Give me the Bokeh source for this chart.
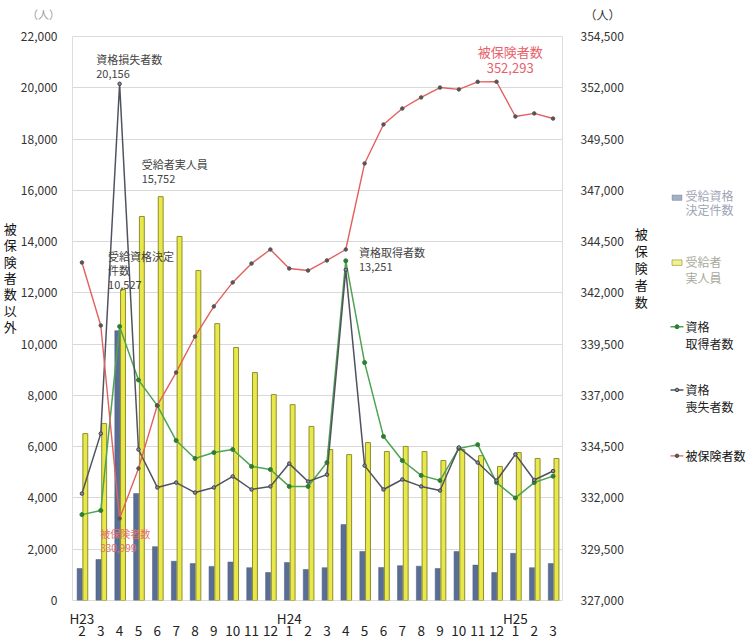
from bokeh.plotting import figure
from bokeh.layouts import column, row
from bokeh.models import (Range1d, LinearAxis, FixedTicker, Label, NumeralTickFormatter,
                          ColumnDataSource)
from bokeh.transform import dodge
from bokeh.embed import file_html
from bokeh.resources import INLINE

# Monthly figures, H23/2 to H25/3
months = ["2", "3", "4", "5", "6", "7", "8", "9", "10", "11", "12",
          "1", "2", "3", "4", "5", "6", "7", "8", "9", "10", "11", "12",
          "1", "2", "3"]
eras = ["H23", "H24", "H25"]
era_start = [0, 11, 23]

# 受給資格決定件数
decisions = [1250, 1600, 10527, 4170, 2100, 1530, 1440, 1330, 1500, 1280, 1090,
             1480, 1210, 1280, 2960, 1910, 1290, 1360, 1340, 1250, 1910, 1380, 1090,
             1840, 1280, 1440]
# 受給者実人員
recipients = [6510, 6900, 12130, 14980, 15752, 14200, 12870, 10800, 9870, 8890, 8030,
              7640, 6790, 5890, 5690, 6160, 5810, 6010, 5810, 5460, 5890, 5650, 5230,
              5770, 5540, 5540]
# 資格取得者数
acquired = [3350, 3510, 10690, 8600, 7600, 6240, 5540, 5770, 5890, 5230, 5110,
            4450, 4450, 5380, 13251, 9280, 6400, 5460, 4880, 4680, 5930, 6080, 4600,
            4000, 4600, 4850]
# 資格喪失者数
lost = [4170, 6510, 20156, 5890, 4410, 4600, 4210, 4410, 4840, 4330, 4450,
        5340, 4640, 4910, 12900, 5260, 4330, 4720, 4450, 4290, 5970, 5380, 4680,
        5700, 4700, 5050]
# 被保険者数
insured = [343480, 340410, 330999, 333440, 336510, 338120, 339870, 341340, 342510, 343430, 344115,
           343190, 343090, 343580, 344115, 348310, 350210, 350990, 351530, 352010, 351920, 352290, 352293,
           350600, 350750, 350500]

FONT = "Noto Sans CJK JP"
PAGE_W, PAGE_H = 746, 642
HEAD = 26                   # caption strip above the chart
TOP = 36 - HEAD             # room for the top tick labels inside the chart body
MAIN_W, SIDE_W = 650, 96    # chart body and legend column
L, R, B = 72, MAIN_W - 568, 42
FW, FH = MAIN_W - L - R, PAGE_H - 36 - B
Y_MAX = 22000
N = len(months)

# series styles, shared by the chart and its legend
DEC = dict(fill_color="#5a6e95", line_color="#4a5b7c", line_width=0.5)
REC = dict(fill_color="#e8e84a", line_color="#8e8e2c", line_width=1)
ACQ_LINE = dict(line_color="#4fa352", line_width=1.5)
ACQ_MARK = dict(marker="circle", size=4, fill_color="#2f7d35", line_color="#2f7d35")
LOST_LINE = dict(line_color="#50535f", line_width=1.5)
LOST_MARK = dict(marker="circle", size=3.5, fill_color="#8a8d96", line_color="#3c3f4a")
INS_LINE = dict(line_color="#e2605e", line_width=1.4)
INS_MARK = dict(marker="circle", size=3.5, fill_color="#555555", line_color="#555555")

src = ColumnDataSource(dict(x=list(range(N)), decisions=decisions,
                            recipients=recipients, acquired=acquired, lost=lost,
                            insured=insured))

p = figure(width=MAIN_W, height=PAGE_H - HEAD, output_backend="svg",
           toolbar_location=None, title=None,
           x_range=Range1d(-0.5, N - 0.5), y_range=Range1d(0, Y_MAX),
           min_border_left=L, min_border_right=R, min_border_top=TOP, min_border_bottom=B)
p.extra_y_ranges = {"ins": Range1d(327000, 354500)}
p.outline_line_color = "#dcdcdc"
p.background_fill_color = "white"
p.border_fill_color = "white"


def dx(px):
    return p.x_range.start + (px - L) / FW * (p.x_range.end - p.x_range.start)


def dy(py):
    return (PAGE_H - B - py) / FH * Y_MAX


def stacked(text, pad):
    # one character per line; blank lines lift the block above the axis centre
    return "\n".join(list(text)) + "\n" * pad


# grid
p.xgrid.visible = False
p.ygrid.ticker = FixedTicker(ticks=list(range(0, Y_MAX + 1, 2000)))
p.ygrid.grid_line_color = "#d9d9d9"

# left axis
ya = p.yaxis[0]
ya.ticker = FixedTicker(ticks=list(range(0, Y_MAX + 1, 2000)))
ya.formatter = NumeralTickFormatter(format="0,0")
ya.major_tick_line_color = None
ya.minor_tick_line_color = None
ya.axis_line_color = None
ya.major_label_standoff = 9
ya.major_label_text_font = FONT
ya.major_label_text_font_size = "12px"
ya.major_label_text_color = "#333333"
ya.axis_label = stacked("被保険者数以外", 5)
ya.axis_label_orientation = "horizontal"
ya.axis_label_standoff = 1
ya.axis_label_text_font = FONT
ya.axis_label_text_font_size = "13px"
ya.axis_label_text_font_style = "normal"
ya.axis_label_text_color = "#111111"
ya.axis_label_text_line_height = 0.86

# right axis
ra = LinearAxis(y_range_name="ins",
                ticker=FixedTicker(ticks=list(range(327000, 354501, 2500))),
                formatter=NumeralTickFormatter(format="0,0"))
ra.major_tick_line_color = None
ra.minor_tick_line_color = None
ra.axis_line_color = None
ra.major_label_standoff = 12
ra.major_label_text_font = FONT
ra.major_label_text_font_size = "12px"
ra.major_label_text_color = "#333333"
ra.axis_label = stacked("被保険者数", 6)
ra.axis_label_orientation = "horizontal"
ra.axis_label_standoff = 8
ra.axis_label_text_font = FONT
ra.axis_label_text_font_size = "13px"
ra.axis_label_text_font_style = "normal"
ra.axis_label_text_color = "#111111"
ra.axis_label_text_line_height = 0.9
p.add_layout(ra, "right")

# month ticks; the first month of each era carries the era name on the line above
era_at = dict(zip(era_start, eras))
xa = p.xaxis[0]
xa.ticker = FixedTicker(ticks=list(range(N)))
xa.major_label_overrides = {i: era_at.get(i, "") + "\n" + m for i, m in enumerate(months)}
xa.major_tick_line_color = None
xa.minor_tick_line_color = None
xa.axis_line_color = None
xa.major_label_standoff = 1
xa.major_label_text_font = FONT
xa.major_label_text_font_size = "13.5px"
xa.major_label_text_line_height = 0.6
xa.major_label_text_color = "#222222"

# bars
p.vbar(x=dodge("x", -0.12, range=p.x_range), top="decisions", width=0.27, source=src, **DEC)
p.vbar(x=dodge("x", 0.18, range=p.x_range), top="recipients", width=0.26, source=src, **REC)

# lines
p.line("x", "acquired", source=src, **ACQ_LINE)
p.scatter("x", "acquired", source=src, **ACQ_MARK)
p.line("x", "lost", source=src, **LOST_LINE)
p.scatter("x", "lost", source=src, **LOST_MARK)
p.line("x", "insured", source=src, y_range_name="ins", **INS_LINE)
p.scatter("x", "insured", source=src, y_range_name="ins", **INS_MARK)


def label(fig, x, y, text, size="11px", color="#444444", align="left", baseline="top",
          lh=0.92):
    lab = Label(x=x, y=y, text=text, text_font=FONT, text_font_size=size,
                text_color=color, text_align=align, text_baseline=baseline,
                text_line_height=lh)
    fig.add_layout(lab)
    return lab


# value callouts
label(p, dx(96), dy(50), "資格損失者数\n{:,}".format(lost[2]))
label(p, dx(142), dy(155), "受給者実人員\n{:,}".format(recipients[4]))
label(p, dx(108), dy(247), "受給資格決定\n件数\n{:,}".format(decisions[2]), lh=0.88)
label(p, dx(362), dy(243), "資格取得者数\n{:,}".format(acquired[14]))
label(p, dx(515), dy(41), "被保険者数\n{:,}".format(insured[22]), size="13px",
      color="#e8606a", align="center", lh=0.86)
label(p, dx(100), dy(525), "被保険者数\n{:,}".format(insured[2]), size="10px",
      color="#e8706a", lh=0.97)


def blank(width, height, xr, yr):
    f = figure(width=width, height=height, output_backend="svg", toolbar_location=None,
               title=None, x_axis_type=None, y_axis_type=None,
               x_range=Range1d(*xr), y_range=Range1d(*yr),
               min_border_left=0, min_border_right=0, min_border_top=0, min_border_bottom=0)
    f.outline_line_color = None
    f.background_fill_color = "white"
    f.border_fill_color = "white"
    return f


# caption strip with the unit of each value axis (page pixel coordinates)
head = blank(PAGE_W, HEAD, (0, PAGE_W), (HEAD, 0))
label(head, 43, 13, "（人）", size="11px", color="#9a9a9a", align="center", baseline="middle")
label(head, 602, 14, "（人）", size="12px", color="#333333", align="center", baseline="middle")

# legend column (page pixel coordinates)
side = blank(SIDE_W, PAGE_H - HEAD, (MAIN_W, PAGE_W), (PAGE_H, HEAD))
ICON_X0, ICON_X1, TEXT_X = 670, 683, 685
side.rect(x=[(ICON_X0 + ICON_X1) / 2], y=[202], width=10, height=6, alpha=0.55, **DEC)
side.rect(x=[(ICON_X0 + ICON_X1) / 2], y=[273], width=10, height=6, alpha=0.6, **REC)
for yy, ls, ms in ((343, ACQ_LINE, ACQ_MARK), (412, LOST_LINE, LOST_MARK),
                   (484, INS_LINE, INS_MARK)):
    side.line(x=[ICON_X0, ICON_X1], y=[yy, yy], **ls)
    side.scatter(x=[(ICON_X0 + ICON_X1) / 2], y=[yy], **ms)

legend_rows = [
    (200, "受給資格", "#9ca5b6"), (215, "決定件数", "#9ca5b6"),
    (272, "受給者", "#a7a99c"), (289, "実人員", "#a7a99c"),
    (343, "資格", "#222222"), (361, "取得者数", "#222222"),
    (412, "資格", "#222222"), (430, "喪失者数", "#222222"),
    (484, "被保険者数", "#111111"),
]
for yy, txt, col in legend_rows:
    label(side, TEXT_X, yy, txt, size="12px", color=col, baseline="middle")

page = column(head, row(p, side))
open("out.html", "w").write(file_html(page, INLINE))
